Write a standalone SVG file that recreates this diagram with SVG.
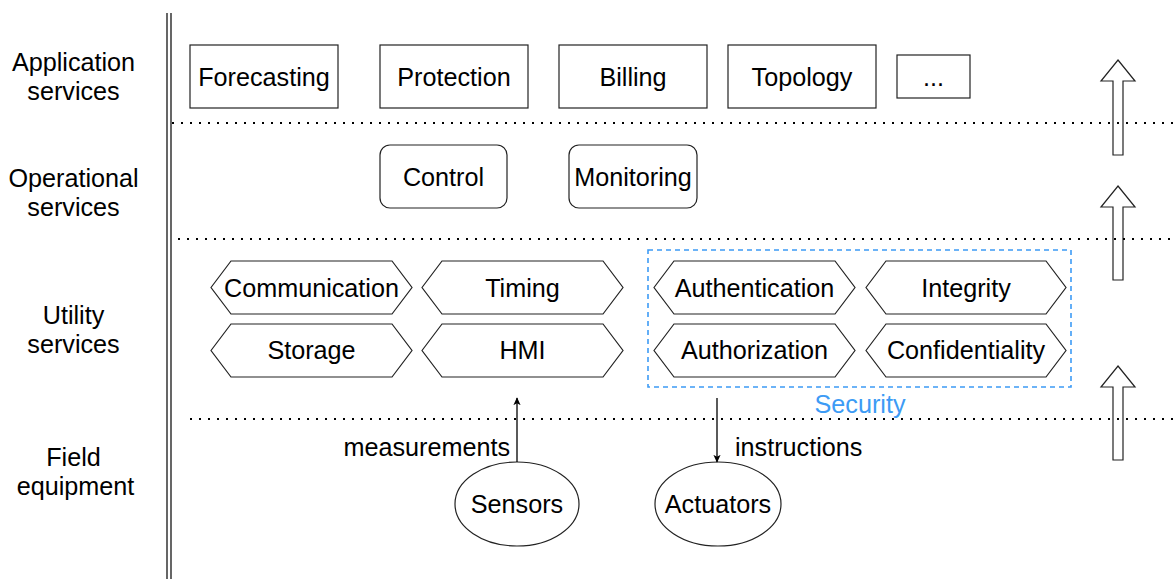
<svg xmlns="http://www.w3.org/2000/svg" width="1175" height="579" viewBox="0 0 1175 579">
  <defs>
    <style>
      text { font-family: "Liberation Sans", Arial, sans-serif; font-size: 25.2px; fill: #000; }
      .c { text-anchor: middle; }
      .box { fill: #fff; stroke: #222; stroke-width: 1.2; }
      .hex { fill: #fff; stroke: #222; stroke-width: 1.2; }
      .sep { fill: none; stroke: #000; stroke-width: 2; stroke-dasharray: 2 7; }
      .edge { fill: none; stroke: #000; stroke-width: 1.3; }
      .up { fill: #fff; stroke: #222; stroke-width: 1.2; }
    </style>
    <marker id="head" viewBox="0 0 10 10" refX="9" refY="5" markerWidth="8" markerHeight="8" markerUnits="userSpaceOnUse" orient="auto">
      <path d="M0,0.5 L10,5 L0,9.5 L2.5,5 Z" fill="#000"/>
    </marker>
  </defs>

  <!-- vertical double rule -->
  <g id="rule">
    <line x1="167" y1="13" x2="167" y2="579" stroke="#000" stroke-width="1.2"/>
    <line x1="171" y1="13" x2="171" y2="579" stroke="#000" stroke-width="1.2"/>
  </g>

  <!-- layer labels -->
  <g id="layer-labels">
    <text class="c" x="73.5" y="70.5">Application</text>
    <text class="c" x="73.5" y="99.5">services</text>
    <text class="c" x="73.5" y="186.5">Operational</text>
    <text class="c" x="73.5" y="215.5">services</text>
    <text class="c" x="73.5" y="323.5">Utility</text>
    <text class="c" x="73.5" y="352.5">services</text>
    <text class="c" x="73.5" y="465.5">Field</text>
    <text class="c" x="75.5" y="494.5">equipment</text>
  </g>

  <!-- upward layer arrows -->
  <g id="layer-arrows">
    <polygon class="up" points="1118,60 1135,81 1123,81 1123,155 1113,155 1113,81 1101,81"/>
    <polygon class="up" points="1118,186 1135,207 1123,207 1123,280 1113,280 1113,207 1101,207"/>
    <polygon class="up" points="1118,366 1135,387 1123,387 1123,460 1113,460 1113,387 1101,387"/>
  </g>

  <!-- layer separators -->
  <g id="separators">
    <line class="sep" x1="172" y1="123" x2="1175" y2="123"/>
    <line class="sep" x1="178" y1="239" x2="1175" y2="239"/>
    <line class="sep" x1="190" y1="419" x2="1175" y2="419"/>
  </g>

  <!-- application services -->
  <g id="forecasting"><rect class="box" x="190" y="45" width="148" height="63"/><text class="c" x="264" y="85.5">Forecasting</text></g>
  <g id="protection"><rect class="box" x="380" y="45" width="148" height="63"/><text class="c" x="454" y="85.5">Protection</text></g>
  <g id="billing"><rect class="box" x="559" y="45" width="148" height="63"/><text class="c" x="633" y="85.5">Billing</text></g>
  <g id="topology"><rect class="box" x="728" y="45" width="148" height="63"/><text class="c" x="802" y="85.5">Topology</text></g>
  <g id="more"><rect class="box" x="897" y="55" width="73" height="43"/><text class="c" x="933.5" y="85.5">...</text></g>

  <!-- operational services -->
  <g id="control"><rect class="box" x="380" y="145" width="127" height="63" rx="10"/><text class="c" x="443.5" y="185.5">Control</text></g>
  <g id="monitoring"><rect class="box" x="569" y="145" width="128" height="63" rx="10"/><text class="c" x="633" y="185.5">Monitoring</text></g>

  <!-- utility services -->
  <g id="communication"><polygon class="hex" points="211,287.5 231,261 392,261 412,287.5 392,314 231,314"/><text class="c" x="311.5" y="297">Communication</text></g>
  <g id="timing"><polygon class="hex" points="422,287.5 442,261 603,261 623,287.5 603,314 442,314"/><text class="c" x="522.5" y="297">Timing</text></g>
  <g id="storage"><polygon class="hex" points="211,350.5 231,324 392,324 412,350.5 392,377 231,377"/><text class="c" x="311.5" y="359">Storage</text></g>
  <g id="hmi"><polygon class="hex" points="422,350.5 442,324 603,324 623,350.5 603,377 442,377"/><text class="c" x="522.5" y="359">HMI</text></g>

  <!-- security group -->
  <g id="security">
    <rect x="648" y="250" width="423" height="137" fill="none" stroke="#3d9bf5" stroke-width="1.6" stroke-dasharray="5 4"/>
    <text class="c" x="860" y="413" style="fill:#3d9bf5">Security</text>
  </g>
  <g id="authentication"><polygon class="hex" points="654,287.5 674,261 835,261 855,287.5 835,314 674,314"/><text class="c" x="754.5" y="297">Authentication</text></g>
  <g id="integrity"><polygon class="hex" points="866,287.5 886,261 1046,261 1066,287.5 1046,314 886,314"/><text class="c" x="966" y="297">Integrity</text></g>
  <g id="authorization"><polygon class="hex" points="654,350.5 674,324 835,324 855,350.5 835,377 674,377"/><text class="c" x="754.5" y="359">Authorization</text></g>
  <g id="confidentiality"><polygon class="hex" points="866,350.5 886,324 1046,324 1066,350.5 1046,377 886,377"/><text class="c" x="966" y="359">Confidentiality</text></g>

  <!-- field equipment -->
  <g id="sensors"><ellipse class="box" cx="517" cy="504" rx="62" ry="42"/><text class="c" x="517" y="513">Sensors</text></g>
  <g id="actuators"><ellipse class="box" cx="718" cy="504" rx="63" ry="42"/><text class="c" x="718" y="513">Actuators</text></g>

  <!-- connectors -->
  <g id="connectors">
    <line class="edge" x1="517" y1="462" x2="517" y2="398" marker-end="url(#head)"/>
    <text x="510" y="456" style="text-anchor:end">measurements</text>
    <line class="edge" x1="717" y1="398" x2="717" y2="462" marker-end="url(#head)"/>
    <text x="735" y="456">instructions</text>
  </g>
</svg>
